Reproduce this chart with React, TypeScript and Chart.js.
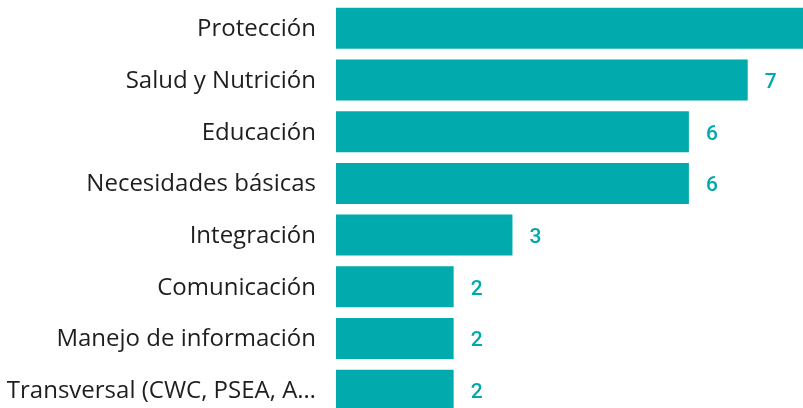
import React, { useEffect, useRef } from "react";
import { Chart, registerables } from "chart.js";

Chart.register(...registerables);

const categories = [
  "Protección",
  "Salud y Nutrición",
  "Educación",
  "Necesidades básicas",
  "Integración",
  "Comunicación",
  "Manejo de información",
  "Transversal (CWC, PSEA, A…",
];
const values = [8, 7, 6, 6, 3, 2, 2, 2];

const BAR_COLOR = "#01ABAD";
const LABEL_COLOR = "#01A9AC";

const valueLabels = {
  id: "valueLabels",
  afterDatasetsDraw(chart: any) {
    const ctx = chart.ctx;
    const meta = chart.getDatasetMeta(0);
    ctx.save();
    ctx.font = "500 21px Roboto";
    ctx.fillStyle = LABEL_COLOR;
    ctx.textAlign = "left";
    ctx.textBaseline = "alphabetic";
    meta.data.forEach((el: any, i: number) => {
      ctx.fillText(String(values[i]), el.x + 17, el.y + 8);
    });
    ctx.restore();
  },
};

export default function App() {
  const ref = useRef<HTMLCanvasElement | null>(null);
  useEffect(() => {
    if (!ref.current) return;
    const chart = new Chart(ref.current, {
      type: "bar",
      data: {
        labels: categories,
        datasets: [
          {
            data: values,
            backgroundColor: BAR_COLOR,
            borderWidth: 0,
            categoryPercentage: 1,
            barPercentage: 0.793,
          },
        ],
      },
      options: {
        indexAxis: "y",
        responsive: false,
        animation: false,
        layout: { padding: { top: 2.5, left: 0, right: 0, bottom: 0 } },
        plugins: {
          legend: { display: false },
          tooltip: { enabled: false },
        },
        scales: {
          x: {
            display: false,
            min: 0,
            max: 7.94,
          },
          y: {
            grid: { display: false, drawTicks: false },
            border: { display: false },
            afterFit(scale: any) {
              scale.width = 336;
              scale.paddingTop = 0;
              scale.paddingBottom = 0;
            },
            ticks: {
              padding: 20,
              labelOffset: 1,
              color: "#1F1E1D",
              font: { family: "'Open Sans'", size: 24 },
              autoSkip: false,
            },
          },
        },
      },
      plugins: [valueLabels],
    });
    return () => chart.destroy();
  }, []);
  return (
    <div
      style={{
        position: "fixed",
        left: 0,
        top: 0,
        width: 803,
        height: 408,
        overflow: "hidden",
        background: "#fff",
      }}
    >
      <canvas ref={ref} width={803} height={416} style={{ width: 803, height: 416, display: "block" }} />
    </div>
  );
}
